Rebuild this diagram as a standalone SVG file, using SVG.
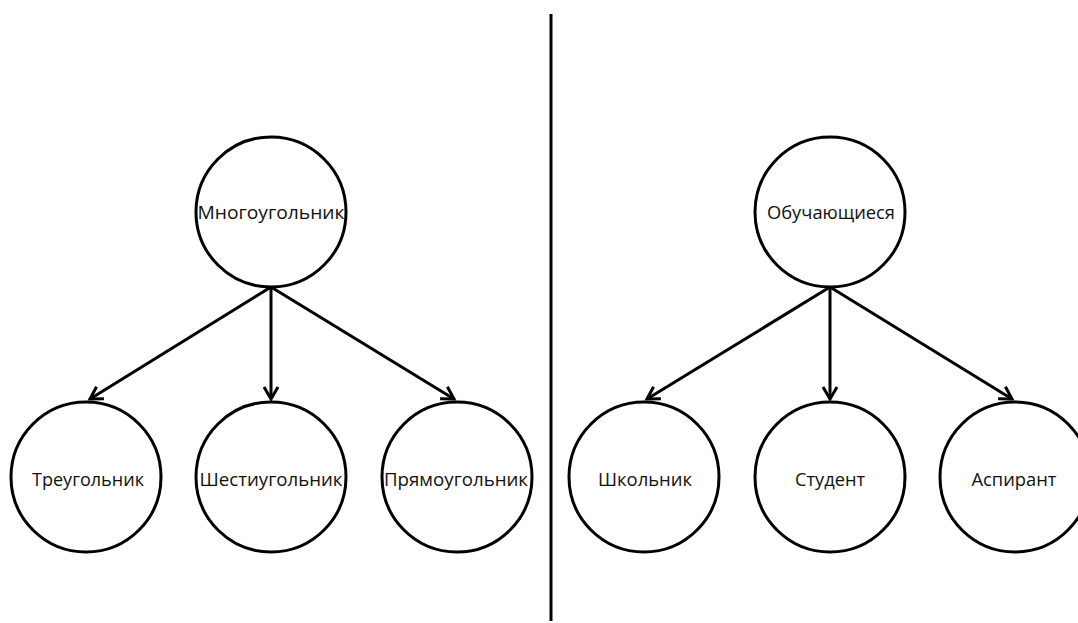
<svg xmlns="http://www.w3.org/2000/svg" width="1078" height="623" viewBox="0 0 1078 623">
<style>
.n{fill:#fff;stroke:#000;stroke-width:3}
.t{font-family:"Open Sans","Liberation Sans",Arial,sans-serif;font-size:18px;fill:#111;text-anchor:middle;dominant-baseline:central}
.c{stroke:#000;stroke-width:3;fill:none;marker-end:url(#ah)}
</style>
<defs>
<marker id="ah" markerUnits="userSpaceOnUse" markerWidth="20" markerHeight="20" refX="13" refY="8" orient="auto" viewBox="0 0 20 16">
<path d="M1,1 L13,8 L1,15" fill="none" stroke="#000" stroke-width="3"/>
</marker>
</defs>
<rect width="1078" height="623" fill="#fff"/>
<line x1="551" y1="14" x2="551" y2="621" stroke="#000" stroke-width="3"/>
<g id="connectors">
<line class="c" x1="271" y1="287" x2="90" y2="399"/>
<line class="c" x1="271" y1="287" x2="271" y2="399"/>
<line class="c" x1="271" y1="287" x2="454" y2="399"/>
<line class="c" x1="830" y1="287" x2="647" y2="399"/>
<line class="c" x1="830" y1="287" x2="830" y2="399"/>
<line class="c" x1="830" y1="287" x2="1012" y2="399"/>
</g>
<g id="n1"><circle class="n" cx="271" cy="212" r="75"/><text class="t" x="271" y="212" textLength="147" lengthAdjust="spacingAndGlyphs">Многоугольник</text></g>
<g id="n2"><circle class="n" cx="86" cy="477" r="75"/><text class="t" x="88" y="479" textLength="112" lengthAdjust="spacingAndGlyphs">Треугольник</text></g>
<g id="n3"><circle class="n" cx="271" cy="477" r="75"/><text class="t" x="271" y="479" textLength="143" lengthAdjust="spacingAndGlyphs">Шестиугольник</text></g>
<g id="n4"><circle class="n" cx="457" cy="477" r="75"/><text class="t" x="456" y="479" textLength="144" lengthAdjust="spacingAndGlyphs">Прямоугольник</text></g>
<g id="n5"><circle class="n" cx="830" cy="212" r="75"/><text class="t" x="831" y="212" textLength="128" lengthAdjust="spacingAndGlyphs">Обучающиеся</text></g>
<g id="n6"><circle class="n" cx="644" cy="477" r="75"/><text class="t" x="645" y="479" textLength="94" lengthAdjust="spacingAndGlyphs">Школьник</text></g>
<g id="n7"><circle class="n" cx="830" cy="477" r="75"/><text class="t" x="830" y="479" textLength="70" lengthAdjust="spacingAndGlyphs">Студент</text></g>
<g id="n8"><circle class="n" cx="1015" cy="477" r="75"/><text class="t" x="1014" y="479" textLength="85" lengthAdjust="spacingAndGlyphs">Аспирант</text></g>
</svg>
